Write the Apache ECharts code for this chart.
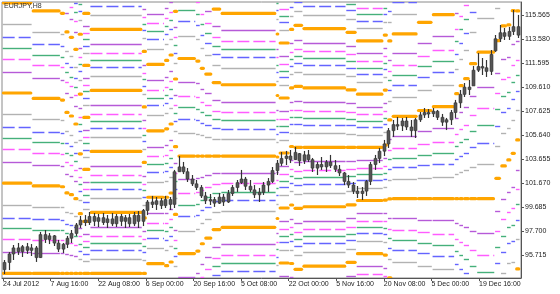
<!DOCTYPE html>
<html><head><meta charset="utf-8">
<script src="https://cdn.jsdelivr.net/npm/echarts@6/dist/echarts.min.js"></script>
<style>html,body{margin:0;padding:0;background:#fff}#c{width:560px;height:294px}</style>
</head><body><div id="c"></div>
<script>
// ---------- DATA ----------
const chartTitle = 'EURJPY,H8';
const xTickBars = [0, 32, 64, 96, 128, 160, 192, 224, 256, 288, 320];
const xTickLabels = ['24 Jul 2012', '7 Aug 16:00', '22 Aug 08:00', '6 Sep 00:00', '20 Sep 16:00', '5 Oct 08:00',
  '22 Oct 00:00', '5 Nov 16:00', '20 Nov 08:00', '5 Dec 00:00', '19 Dec 16:00'];
const yTicks = [95.715, 97.700, 99.685, 101.670, 103.655, 105.640, 107.625, 109.610, 111.595, 113.580, 115.565];
const yTickLabels = ['95.715', '97.700', '99.685', '101.670', '103.655', '105.640', '107.625', '109.610', '111.595', '113.580', '115.565'];

// daily candles (3 H8 bars each)
const candleOpen = [94.5, 95.1, 95.8, 96.3, 96.0, 96.4, 96.1, 96.3, 95.5, 97.4,
  97.0, 97.3, 96.7, 96.2, 96.6, 97.1, 97.5, 98.2, 98.6, 98.4,
  98.9, 98.5, 98.8, 98.4, 98.7, 98.3, 98.9, 98.5, 98.8, 98.3,
  99.0, 98.5, 99.4, 100.1, 99.9, 100.2, 99.8, 100.3, 99.9, 102.6,
  103.0, 102.6, 102.0, 101.6, 101.3, 100.6, 100.2, 100.3, 100.0, 100.5,
  100.1, 100.8, 101.3, 101.7, 102.0, 101.4, 101.1, 100.7, 100.9, 101.5,
  101.8, 102.7, 103.3, 103.7, 103.9, 103.6, 104.1, 103.5, 104.0, 103.6,
  102.9, 103.2, 103.0, 103.4, 103.1, 102.8, 102.5, 101.8, 101.5, 101.0,
  100.8, 101.0, 101.8, 103.2, 103.7, 104.3, 104.9, 106.0, 106.5, 106.4,
  106.8, 106.3, 106.0, 106.9, 107.3, 107.5, 107.4, 107.6, 107.1, 106.7,
  106.9, 107.5, 108.3, 109.0, 109.6, 109.7, 111.0, 111.3, 111.2, 110.9,
  112.6, 113.6, 114.1, 113.8, 114.2, 114.6];
const candleClose = [95.1, 95.8, 96.3, 96.0, 96.4, 96.1, 96.3, 95.5, 97.4, 97.0,
  97.3, 96.7, 96.2, 96.6, 97.1, 97.5, 98.2, 98.6, 98.4, 98.9,
  98.5, 98.8, 98.4, 98.7, 98.3, 98.9, 98.5, 98.8, 98.3, 99.0,
  98.5, 99.4, 100.1, 99.9, 100.2, 99.8, 100.3, 99.9, 102.6, 103.0,
  102.6, 102.0, 101.6, 101.3, 100.6, 100.2, 100.3, 100.0, 100.5, 100.1,
  100.8, 101.3, 101.7, 102.0, 101.4, 101.1, 100.7, 100.9, 101.5, 101.8,
  102.7, 103.3, 103.7, 103.9, 103.6, 104.2, 103.5, 104.0, 103.6, 102.9,
  103.2, 103.0, 103.4, 103.1, 102.8, 102.5, 101.8, 101.5, 101.0, 100.8,
  101.0, 101.8, 103.2, 103.7, 104.3, 104.9, 106.0, 106.5, 106.4, 106.8,
  106.3, 106.0, 106.9, 107.3, 107.5, 107.4, 107.6, 107.1, 106.7, 106.9,
  107.5, 108.3, 109.0, 109.6, 109.4, 111.0, 111.3, 111.2, 110.9, 112.3,
  113.6, 114.1, 113.8, 114.2, 114.6, 113.9];
const candleHigh = [95.30, 95.96, 96.54, 96.71, 96.54, 96.71, 96.62, 96.46, 97.62, 97.78,
  97.53, 97.37, 96.96, 96.71, 97.29, 97.78, 98.36, 98.94, 99.02, 99.27,
  99.19, 99.11, 99.19, 99.02, 99.19, 99.11, 99.11, 99.02, 99.11, 99.27,
  99.35, 99.52, 100.26, 100.60, 100.51, 100.43, 100.60, 100.51, 102.75, 103.90,
  103.41, 102.91, 102.33, 101.92, 101.50, 100.93, 100.76, 100.51, 100.84, 100.76,
  101.09, 101.50, 101.92, 102.75, 102.17, 101.92, 101.50, 101.26, 101.75, 102.08,
  102.99, 103.57, 104.23, 104.32, 104.40, 104.65, 104.15, 104.32, 104.40, 103.74,
  103.41, 103.82, 103.57, 103.99, 103.57, 103.16, 102.58, 102.33, 101.75, 101.42,
  101.34, 101.92, 103.41, 103.99, 104.57, 105.23, 106.22, 106.88, 107.13, 107.05,
  107.13, 106.88, 107.05, 107.54, 107.87, 107.79, 107.87, 107.71, 107.38, 107.05,
  107.71, 108.54, 109.36, 109.94, 110.19, 111.35, 112.42, 112.01, 111.84, 112.67,
  113.91, 114.74, 114.49, 114.57, 115.98, 115.57];
const candleLow = [94.14, 94.47, 95.30, 95.72, 95.55, 95.80, 95.63, 95.14, 95.47, 96.71,
  96.62, 96.46, 95.96, 95.88, 96.29, 96.71, 97.29, 97.95, 98.11, 98.20,
  98.11, 98.03, 98.20, 97.95, 98.11, 98.03, 98.11, 97.95, 98.03, 98.11,
  97.95, 98.11, 99.02, 99.60, 99.44, 99.52, 99.60, 99.44, 99.60, 102.58,
  102.41, 101.75, 101.42, 101.09, 100.43, 99.93, 99.85, 99.69, 99.93, 99.77,
  100.02, 100.60, 100.93, 101.59, 101.09, 100.93, 100.43, 100.10, 100.68, 100.93,
  101.67, 102.33, 103.08, 103.16, 103.32, 103.57, 103.08, 103.24, 103.41, 102.58,
  102.33, 102.75, 102.58, 102.91, 102.58, 102.25, 101.50, 101.26, 100.76, 100.43,
  100.26, 100.60, 101.50, 102.75, 103.32, 103.90, 104.57, 105.48, 106.05, 105.97,
  106.05, 105.48, 105.39, 106.72, 107.05, 107.05, 107.13, 106.88, 106.39, 106.05,
  106.47, 107.05, 107.87, 108.78, 108.95, 109.69, 110.85, 110.60, 110.44, 110.60,
  112.51, 113.33, 113.50, 113.50, 113.91, 113.66];

// Fibonacci grid indicator: per period (H8 bar range) an orange anchor level and its range
const fibRatios = [0.236, 0.382, 0.5, 0.618, 0.764];
const segStart = [0, 20, 39, 42, 45, 48, 51, 54, 59, 94, 97, 109, 112, 115, 118, 130, 133, 136, 141, 147,
  184, 186, 193, 196, 202, 231, 238, 256, 259, 262, 279, 289, 304, 307, 310, 314, 319, 331, 335, 339, 342, 345];
const segEnd = [19, 38, 41, 44, 47, 50, 53, 58, 93, 96, 108, 111, 114, 117, 129, 132, 135, 140, 146, 183,
  185, 192, 195, 201, 230, 237, 255, 258, 261, 278, 288, 303, 306, 309, 313, 318, 330, 334, 338, 341, 344, 347];
const segAnchor = [94.19, 94.19, 94.19, 94.19, 94.19, 94.19, 94.19, 94.19, 94.19, 94.19, 100.49, 100.49, 106.55, 104.67, 103.90,
  103.90, 103.90, 103.90, 103.90, 103.90, 103.82, 104.15, 104.69, 104.62, 104.62, 104.62, 104.62, 100.26, 100.35, 100.37,
  100.37, 100.37, 100.37, 100.37, 100.37, 100.37, 100.37, 113.44, 114.66, 114.74, 115.92, 105.23];
const segRange = [7.461, 7.237, 7.171, 6.658, 6.510, 6.179, 4.946, 4.301, 5.045, 4.591, 5.492, 5.658, 5.707, 5.600, 8.065,
  7.858, 7.254, 6.782, 6.079, 5.897, 5.087, 4.549, 4.839, 5.045, 4.913, 4.756, 4.400, 4.549, 6.534, 6.816,
  7.295, 7.610, 8.685, 9.347, 9.926, 11.166, 12.117, 11.381, 11.580, 11.166, 11.795, 10.670];
const segDir = [0, 0, 0, 0, 0, 0, 1, 1, 1, 1, 1, 1, 1, 1, 1, 1, 1, 1, 1, 1,
  1, 1, 1, 1, 1, 1, 1, 1, 1, 1, 1, 1, 1, 1, 1, 1, 1, 1, 1, 1, 1, 1];

// ---------- STYLE ----------
const FONT = 'Liberation Sans';
const Y_MIN = 93.812, Y_MAX = 116.64;
const X_MIN = -0.67, X_MAX = 348.2;
const BARS_PER_DAY = 3;
const COL = { gray: '#b2b2b2', blue: '#6464ff', green: '#45b07a', magenta: '#ff5cff', purple: '#b65ad8', orange: '#ffa500' };
const upColorsDir1 = ['gray', 'blue', 'green', 'magenta', 'purple'];
const upColorsDir0 = ['purple', 'magenta', 'green', 'blue', 'gray'];

const segData = segStart.map((s, i) => [s, segEnd[i], segAnchor[i], segRange[i], segDir[i]]);
const candleData = candleOpen.map((o, i) => [i * BARS_PER_DAY + 1, o, candleClose[i], candleLow[i], candleHigh[i]]);

function renderLevels(params, api) {
  const s = api.value(0), e = api.value(1), a = api.value(2), r = api.value(3), d = api.value(4);
  const xa = api.coord([s - 0.5, a])[0] + 0.4;
  const xb = api.coord([e + 0.5, a])[0] - 0.4;
  const names = d === 1 ? upColorsDir1 : upColorsDir0;
  const lines = [], oranges = [];
  const kLo = Math.floor((Y_MIN - a) / r) - 1, kHi = Math.ceil((Y_MAX - a) / r) + 1;
  for (let k = kLo; k <= kHi; k++) {
    const base = a + k * r;
    fibRatios.forEach((f, i) => {
      const v = base + f * r;
      if (v < Y_MIN || v > Y_MAX) return;
      const y = Math.round(api.coord([s, v])[1]) + 0.5;
      const nm = names[i];
      lines.push({ type: 'line', shape: { x1: xa, y1: y, x2: xb, y2: y },
        style: { stroke: COL[nm], lineWidth: 1.4, lineDash: (nm === 'blue' || nm === 'magenta') ? [12, 4] : null } });
    });
    if (base >= Y_MIN - 0.15 && base <= Y_MAX + 0.15) {
      const y = api.coord([s, base])[1];
      oranges.push({ type: 'line', shape: { x1: xa + 0.8, y1: y, x2: xb - 0.8, y2: y },
        style: { stroke: COL.orange, lineWidth: 3.2, lineCap: 'round' } });
    }
  }
  return { type: 'group', children: lines.concat(oranges) };
}

function renderCandle(params, api) {
  const x = api.value(0), o = api.value(1), c = api.value(2), l = api.value(3), h = api.value(4);
  const pH = api.coord([x, h]), pL = api.coord([x, l]), pO = api.coord([x, o]), pC = api.coord([x, c]);
  const cx = Math.round(pH[0]) + 0.5;
  const bw = 3;
  const top = Math.min(pO[1], pC[1]);
  const hgt = Math.max(1.5, Math.abs(pO[1] - pC[1]));
  return { type: 'group', children: [
    { type: 'line', shape: { x1: cx, y1: pH[1], x2: cx, y2: pL[1] }, style: { stroke: '#333', lineWidth: 1.2 } },
    { type: 'rect', shape: { x: cx - bw / 2, y: top, width: bw, height: hgt }, style: { fill: '#555', stroke: '#383838', lineWidth: 0.6 } }
  ] };
}

const chart = echarts.init(document.getElementById('c'), null, { renderer: 'canvas' });
chart.setOption({
  animation: false,
  backgroundColor: '#ffffff',
  title: { text: chartTitle, left: 4, top: 3, padding: 0,
    textStyle: { fontSize: 7, fontWeight: 'normal', color: '#333', fontFamily: FONT } },
  grid: { left: 1, right: 39, top: 2, bottom: 16, show: true, borderColor: '#8a8a8a', borderWidth: 1 },
  xAxis: {
    type: 'value', min: X_MIN, max: X_MAX,
    axisLine: { show: true, onZero: false, lineStyle: { color: '#555', width: 1 } },
    axisTick: { show: true, customValues: xTickBars, length: 3, lineStyle: { color: '#555' } },
    axisLabel: { customValues: xTickBars, formatter: v => xTickLabels[xTickBars.indexOf(v)],
      align: 'left', margin: 3, fontSize: 7, fontFamily: FONT, color: '#222' },
    splitLine: { show: false }
  },
  yAxis: {
    type: 'value', position: 'right', min: Y_MIN, max: Y_MAX,
    axisLine: { show: true, onZero: false, lineStyle: { color: '#555', width: 1 } },
    axisTick: { show: true, customValues: yTicks, length: 3, lineStyle: { color: '#555' } },
    axisLabel: { customValues: yTicks, formatter: v => yTickLabels[yTicks.indexOf(v)],
      margin: 4, fontSize: 7, fontFamily: FONT, color: '#222' },
    splitLine: { show: false }
  },
  series: [
    { type: 'custom', name: 'levels', renderItem: renderLevels, data: segData, clip: true,
      encode: { x: [0, 1], y: 2 }, z: 1 },
    { type: 'custom', name: 'price', renderItem: renderCandle, data: candleData, clip: true,
      encode: { x: 0, y: [1, 2, 3, 4] }, z: 2 }
  ]
});
</script></body></html>
